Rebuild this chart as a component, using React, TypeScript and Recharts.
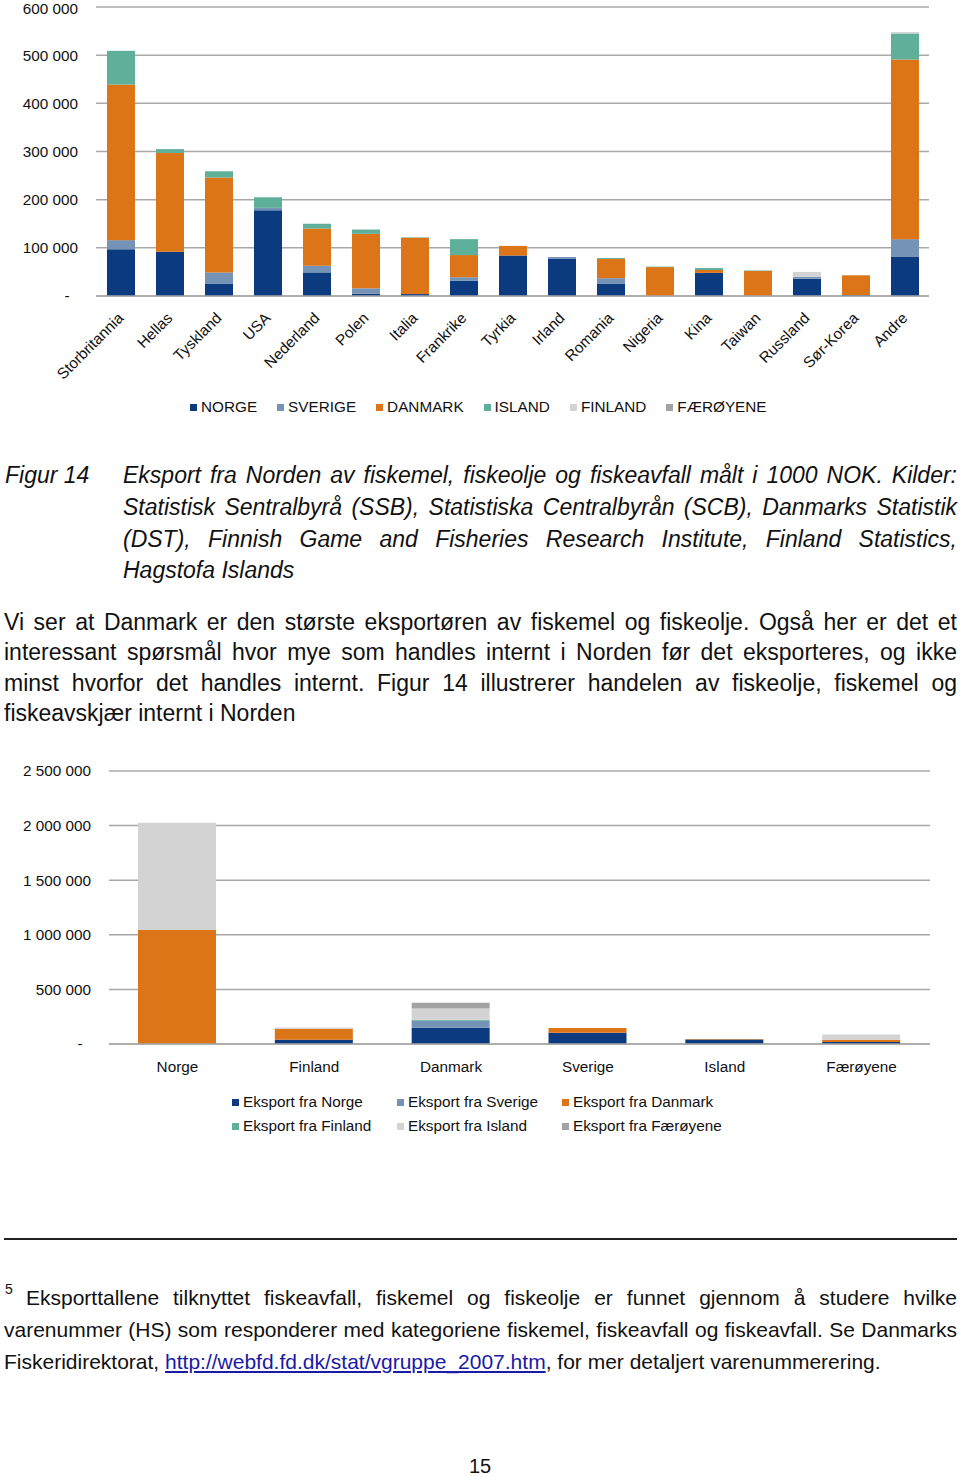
import { BarChart, Bar, XAxis, YAxis, CartesianGrid } from 'recharts';

// Figur 14 – eksport fra Norden per mottakerland (1000 NOK)
const countries = [
  'Storbritannia', 'Hellas', 'Tyskland', 'USA', 'Nederland', 'Polen', 'Italia', 'Frankrike',
  'Tyrkia', 'Irland', 'Romania', 'Nigeria', 'Kina', 'Taiwan', 'Russland', 'Sør-Korea', 'Andre',
];
const norge = [97000, 92000, 25000, 178000, 49000, 5000, 4000, 32000, 84000, 78000, 25000, 0, 48000, 0, 36000, 2000, 81000];
const sverige = [19000, 0, 24000, 5000, 14000, 11000, 0, 7000, 0, 3000, 12000, 0, 0, 0, 4000, 0, 37000];
const danmark = [323000, 205000, 197000, 0, 77000, 113000, 117000, 46000, 20000, 0, 40000, 60000, 6000, 52000, 0, 41000, 373000];
const island = [70000, 8000, 13000, 22000, 10000, 9000, 1000, 33000, 0, 0, 2000, 1000, 4000, 1000, 0, 0, 54000];
const finland = [0, 0, 0, 0, 0, 0, 0, 0, 0, 0, 0, 0, 0, 0, 10000, 0, 3000];
const faeroyene = [0, 0, 0, 0, 0, 0, 0, 0, 0, 0, 0, 0, 0, 0, 0, 0, 0];
const yTicks1 = [0, 100000, 200000, 300000, 400000, 500000, 600000];

// intern handel i Norden per mottaker
const destinations = ['Norge', 'Finland', 'Danmark', 'Sverige', 'Island', 'Færøyene'];
const fraNorge = [0, 39000, 149000, 103000, 42000, 18000];
const fraSverige = [0, 0, 64000, 0, 0, 0];
const fraDanmark = [1044000, 101000, 0, 43000, 3000, 21000];
const fraFinland = [0, 0, 9000, 0, 0, 0];
const fraIsland = [982000, 12000, 104000, 0, 0, 49000];
const fraFaeroyene = [0, 0, 52000, 0, 0, 0];
const yTicks2 = [0, 500000, 1000000, 1500000, 2000000, 2500000];

const colors = ['#0b3b7e', '#7593b7', '#dc7418', '#5eb09b', '#d3d3d3', '#a3a3a3'];
const series1 = [
  { key: 'norge', name: 'NORGE', values: norge },
  { key: 'sverige', name: 'SVERIGE', values: sverige },
  { key: 'danmark', name: 'DANMARK', values: danmark },
  { key: 'island', name: 'ISLAND', values: island },
  { key: 'finland', name: 'FINLAND', values: finland },
  { key: 'faeroyene', name: 'FÆRØYENE', values: faeroyene },
];
const series2 = [
  { key: 'norge', name: 'Eksport fra Norge', values: fraNorge },
  { key: 'sverige', name: 'Eksport fra Sverige', values: fraSverige },
  { key: 'danmark', name: 'Eksport fra Danmark', values: fraDanmark },
  { key: 'finland', name: 'Eksport fra Finland', values: fraFinland },
  { key: 'island', name: 'Eksport fra Island', values: fraIsland },
  { key: 'faeroyene', name: 'Eksport fra Færøyene', values: fraFaeroyene },
];

const rows1 = countries.map((name, i) => {
  const row: Record<string, string | number> = { name };
  series1.forEach((s) => (row[s.key] = s.values[i]));
  return row;
});
const rows2 = destinations.map((name, i) => {
  const row: Record<string, string | number> = { name };
  series2.forEach((s) => (row[s.key] = s.values[i]));
  return row;
});

const FONT = '"Liberation Sans", Arial, Helvetica, sans-serif';
const GRID = '#a8a8a8';

const fmt = (n: number) => (n === 0 ? '-\u00a0\u00a0' : String(n).replace(/\B(?=(\d{3})+(?!\d))/g, ' '));

function SlantTick({ x, y, payload }: any) {
  const ax = x + 4;
  const ay = y + 23;
  return (
    <text x={ax} y={ay} transform={`rotate(-45 ${ax} ${ay})`} textAnchor="end" fontSize={15.3} fill="#111" fontFamily={FONT}>
      {payload.value}
    </text>
  );
}

function LegendItem({ color, label, width }: { color: string; label: string; width?: number }) {
  return (
    <div style={{ display: 'flex', alignItems: 'center', width, whiteSpace: 'nowrap' }}>
      <span style={{ display: 'inline-block', width: 7, height: 7, background: color, marginRight: 4 }} />
      <span>{label}</span>
    </div>
  );
}

function Line({ top, left, width, children, last, italic, size = 23, height = 32 }: any) {
  return (
    <div
      style={{
        position: 'absolute',
        top,
        left,
        width,
        height,
        lineHeight: `${height}px`,
        fontSize: size,
        fontStyle: italic ? 'italic' : 'normal',
        textAlign: 'justify',
        textAlignLast: last ? 'left' : 'justify',
        wordSpacing: last ? 0 : -4,
        whiteSpace: 'nowrap',
        color: '#111',
      }}
    >
      {children}
    </div>
  );
}

export default function App() {
  return (
    <div style={{ height: 1460 }}>
      <div style={{ position: 'fixed', left: 0, top: 0, width: 960, height: 1476, background: '#fff', fontFamily: FONT, overflow: 'hidden' }}>
        <div style={{ position: 'absolute', left: 0, top: 0 }}>
          <BarChart width={960} height={430} data={rows1} margin={{ top: 7, right: 31, bottom: 0, left: 0 }}>
            <CartesianGrid vertical={false} stroke={GRID} strokeWidth={1.5} />
            <XAxis dataKey="name" interval={0} height={134} tickSize={0} tickMargin={0} tick={<SlantTick />} axisLine={{ stroke: GRID, strokeWidth: 1.5 }} tickLine={false} />
            <YAxis
              width={96}
              domain={[0, 600000]}
              ticks={yTicks1}
              tickFormatter={fmt}
              axisLine={false}
              tickLine={false}
              tickSize={0}
              tickMargin={18}
              tick={{ fontSize: 15.3, fill: '#111', fontFamily: FONT }}
            />
            {series1.map((s, i) => (
              <Bar key={s.key} dataKey={s.key} name={s.name} stackId="a" fill={colors[i]} barSize={28} isAnimationActive={false} />
            ))}
          </BarChart>
        </div>
        <div style={{ position: 'absolute', left: 190, top: 398, display: 'flex', gap: 20, fontSize: 15.3, color: '#111' }}>
          {series1.map((s, i) => (
            <LegendItem key={s.key} color={colors[i]} label={s.name} />
          ))}
        </div>

        <div style={{ position: 'absolute', left: 5, top: 459, fontSize: 23, lineHeight: '32px', fontStyle: 'italic', color: '#111' }}>Figur 14</div>
        <Line top={459} left={123} width={834} italic>Eksport fra Norden av fiskemel, fiskeolje og fiskeavfall målt i 1000 NOK. Kilder:</Line>
        <Line top={491} left={123} width={834} italic>Statistisk Sentralbyrå (SSB), Statistiska Centralbyrån (SCB), Danmarks Statistik</Line>
        <Line top={523} left={123} width={834} italic>(DST), Finnish Game and Fisheries Research Institute, Finland Statistics,</Line>
        <Line top={554} left={123} width={834} italic last>Hagstofa Islands</Line>

        <Line top={606} left={4} width={953}>Vi ser at Danmark er den største eksportøren av fiskemel og fiskeolje. Også her er det et</Line>
        <Line top={636} left={4} width={953}>interessant spørsmål hvor mye som handles internt i Norden før det eksporteres, og ikke</Line>
        <Line top={667} left={4} width={953}>minst hvorfor det handles internt. Figur 14 illustrerer handelen av fiskeolje, fiskemel og</Line>
        <Line top={697} left={4} width={953} last>fiskeavskjær internt i Norden</Line>

        <div style={{ position: 'absolute', left: 0, top: 760 }}>
          <BarChart width={960} height={324} data={rows2} margin={{ top: 11, right: 30, bottom: 0, left: 0 }}>
            <CartesianGrid vertical={false} stroke={GRID} strokeWidth={1.5} />
            <XAxis
              dataKey="name"
              interval={0}
              height={40}
              tickSize={0}
              tickMargin={17}
              axisLine={{ stroke: GRID, strokeWidth: 1.5 }}
              tickLine={false}
              tick={{ fontSize: 15.3, fill: '#111', fontFamily: FONT }}
            />
            <YAxis
              width={109}
              domain={[0, 2500000]}
              ticks={yTicks2}
              tickFormatter={fmt}
              axisLine={false}
              tickLine={false}
              tickSize={0}
              tickMargin={18}
              tick={{ fontSize: 15.3, fill: '#111', fontFamily: FONT }}
            />
            {series2.map((s, i) => (
              <Bar key={s.key} dataKey={s.key} name={s.name} stackId="b" fill={colors[i]} barSize={78} isAnimationActive={false} />
            ))}
          </BarChart>
        </div>
        <div style={{ position: 'absolute', left: 232, top: 1093, display: 'flex', flexWrap: 'wrap', width: 520, rowGap: 6, fontSize: 15.3, lineHeight: '18px', color: '#111' }}>
          {series2.map((s, i) => (
            <LegendItem key={s.key} color={colors[i]} label={s.name} width={165} />
          ))}
        </div>

        <div style={{ position: 'absolute', left: 4, top: 1238, width: 953, height: 1.5, background: '#222' }} />
        <div style={{ position: 'absolute', left: 5, top: 1281, fontSize: 14, color: '#111' }}>5</div>
        <Line top={1282} left={26} width={931} size={21}>Eksporttallene tilknyttet fiskeavfall, fiskemel og fiskeolje er funnet gjennom å studere hvilke</Line>
        <Line top={1314} left={4} width={953} size={21}>varenummer (HS) som responderer med kategoriene fiskemel, fiskeavfall og fiskeavfall. Se Danmarks</Line>
        <Line top={1346} left={4} width={953} size={21} last>
          Fiskeridirektorat, <span style={{ color: '#1a1aa6', textDecoration: 'underline' }}>http://webfd.fd.dk/stat/vgruppe_2007.htm</span>, for mer detaljert varenummerering.
        </Line>

        <div style={{ position: 'absolute', left: 0, width: 960, top: 1455, textAlign: 'center', fontSize: 20, color: '#111' }}>15</div>
      </div>
    </div>
  );
}
